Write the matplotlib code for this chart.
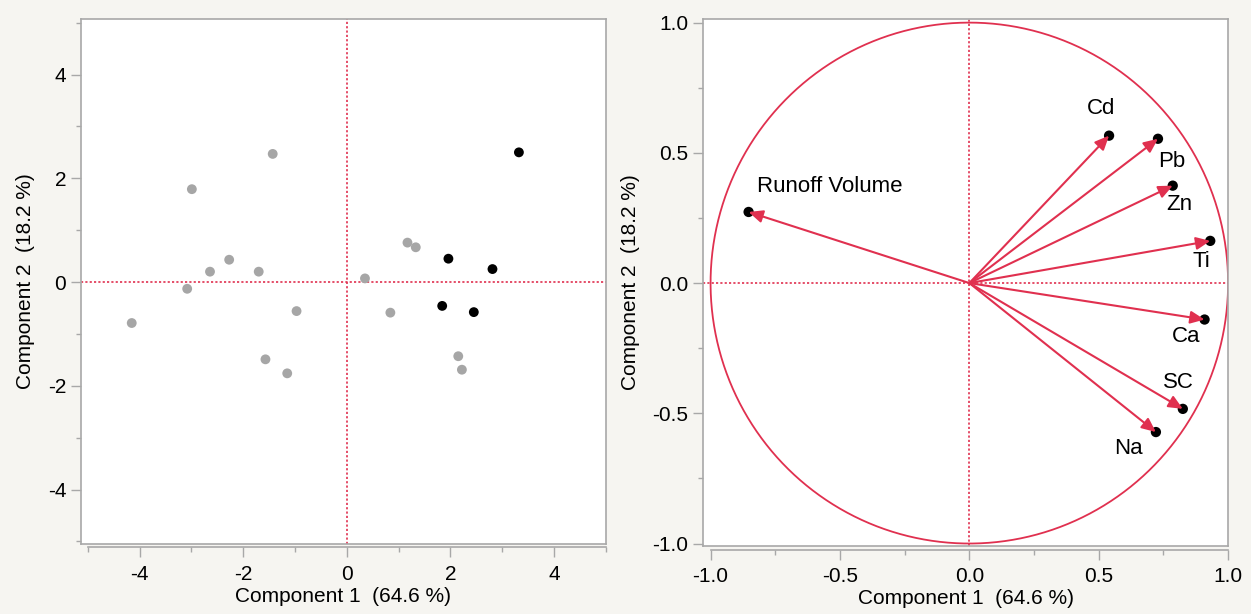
import matplotlib
matplotlib.use("Agg")
import matplotlib.pyplot as plt
from matplotlib.ticker import FixedLocator
import numpy as np

plt.rcParams['font.family'] = ['Liberation Sans', 'DejaVu Sans']
plt.rcParams['axes.unicode_minus'] = False

# Score plot data
gray_x = [-1.43, -2.99, 1.17, 1.33, -2.27, -2.64, -1.70, 0.35, -3.08, -4.15, -0.97, 0.84, -1.57, -1.15, 2.15, 2.22]
gray_y = [2.47, 1.79, 0.76, 0.67, 0.43, 0.20, 0.20, 0.07, -0.13, -0.79, -0.56, -0.59, -1.49, -1.76, -1.43, -1.69]
black_x = [3.32, 1.96, 2.81, 1.84, 2.45]
black_y = [2.50, 0.45, 0.25, -0.46, -0.58]

# Loading plot data
variables = ["Cd", "Pb", "Zn", "Ti", "Ca", "SC", "Na", "Runoff Volume"]
load_x = [0.540, 0.729, 0.786, 0.931, 0.909, 0.825, 0.721, -0.853]
load_y = [0.566, 0.554, 0.374, 0.162, -0.140, -0.483, -0.572, 0.273]
label_x = [0.509, 0.781, 0.813, 0.898, 0.836, 0.809, 0.613, -0.822]
label_y = [0.671, 0.465, 0.300, 0.083, -0.206, -0.383, -0.635, 0.371]

xlabel = "Component 1  (64.6 %)"
ylabel = "Component 2  (18.2 %)"

RED = "#e0304f"
GRAY = "#a6a6a6"
FRAME = "#a8a8a8"
BG = "#f6f5f1"

fig = plt.figure(figsize=(12.51, 6.14), dpi=100, facecolor=BG)
ax1 = fig.add_axes([0.0647, 0.114, 0.4197, 0.855])
ax2 = fig.add_axes([0.5620, 0.1107, 0.4197, 0.858])

def style(ax, xstart):
    ax.set_facecolor("white")
    for s in ax.spines.values():
        s.set_color(FRAME)
        s.set_linewidth(1.2)
    ax.spines['bottom'].set_position(('outward', 2.5))
    ax.spines['bottom'].set_bounds(xstart, ax.get_xlim()[1])
    ax.plot([0, 1], [0, 0], transform=ax.transAxes, color=FRAME, lw=1.2,
            clip_on=False, zorder=6)
    ax.tick_params(axis='both', which='major', length=7, width=1.0, color=FRAME,
                   labelsize=15)
    ax.tick_params(axis='x', which='major', pad=5.5)
    ax.tick_params(axis='y', which='major', pad=3.5)
    ax.tick_params(axis='both', which='minor', length=3.8, width=1.0, color=FRAME)
    ax.set_xlabel(xlabel, fontsize=15, labelpad=2)
    ax.set_ylabel(ylabel, fontsize=15, labelpad=9)
    for tk in ax.xaxis.get_major_ticks():
        if abs(tk.get_loc()) < 1e-9:
            tk.tick1line.set_color(RED)
    for tk in ax.yaxis.get_major_ticks():
        if abs(tk.get_loc()) < 1e-9:
            tk.tick1line.set_color(RED)

DOT = (0, (1.3, 1.3))

# Left: scores
ax1.axhline(0, color=RED, ls=DOT, lw=1.2, zorder=1)
ax1.axvline(0, color=RED, ls=DOT, lw=1.2, zorder=1)
ax1.scatter(gray_x, gray_y, s=50, color=GRAY, edgecolors='none', zorder=3)
ax1.scatter(black_x, black_y, s=50, color='black', edgecolors='none', zorder=3)
ax1.set_xlim(-5.13, 5.0)
ax1.set_ylim(-5.05, 5.07)
ax1.xaxis.set_major_locator(FixedLocator([-4, -2, 0, 2, 4]))
ax1.yaxis.set_major_locator(FixedLocator([-4, -2, 0, 2, 4]))
ax1.xaxis.set_minor_locator(FixedLocator([-5, -3, -1, 1, 3, 5]))
ax1.yaxis.set_minor_locator(FixedLocator([-5, -3, -1, 1, 3, 5]))
style(ax1, -5.0)

# Right: loadings
ax2.axhline(0, color=RED, ls=DOT, lw=1.2, zorder=1)
ax2.axvline(0, color=RED, ls=DOT, lw=1.2, zorder=1)
t = np.linspace(0, 2 * np.pi, 400)
ax2.plot(np.cos(t), np.sin(t), color=RED, lw=1.3, zorder=2)
ax2.scatter(load_x, load_y, s=55, color='black', edgecolors='none', zorder=3)
for name, x, y, lx, ly in zip(variables, load_x, load_y, label_x, label_y):
    ax2.annotate("", xy=(x, y), xytext=(0, 0),
                 arrowprops=dict(arrowstyle="-|>,head_length=0.85,head_width=0.38",
                                 color=RED, lw=1.5, shrinkA=0, shrinkB=0),
                 zorder=4)
    ha = 'left' if name == "Runoff Volume" else 'center'
    ax2.text(lx, ly, name, fontsize=16, ha=ha, va='center', zorder=5)
ax2.set_xlim(-1.029, 1.0)
ax2.set_ylim(-1.0096, 1.013)
ax2.xaxis.set_major_locator(FixedLocator([-1.0, -0.5, 0.0, 0.5, 1.0]))
ax2.yaxis.set_major_locator(FixedLocator([-1.0, -0.5, 0.0, 0.5, 1.0]))
ax2.xaxis.set_minor_locator(FixedLocator([-0.75, -0.25, 0.25, 0.75]))
ax2.yaxis.set_minor_locator(FixedLocator([-0.75, -0.25, 0.25, 0.75]))
ax2.set_xticklabels(["-1.0", "-0.5", "0.0", "0.5", "1.0"])
ax2.set_yticklabels(["-1.0", "-0.5", "0.0", "0.5", "1.0"])
style(ax2, -1.0)

fig.savefig("out.png", dpi=100, facecolor=BG)
